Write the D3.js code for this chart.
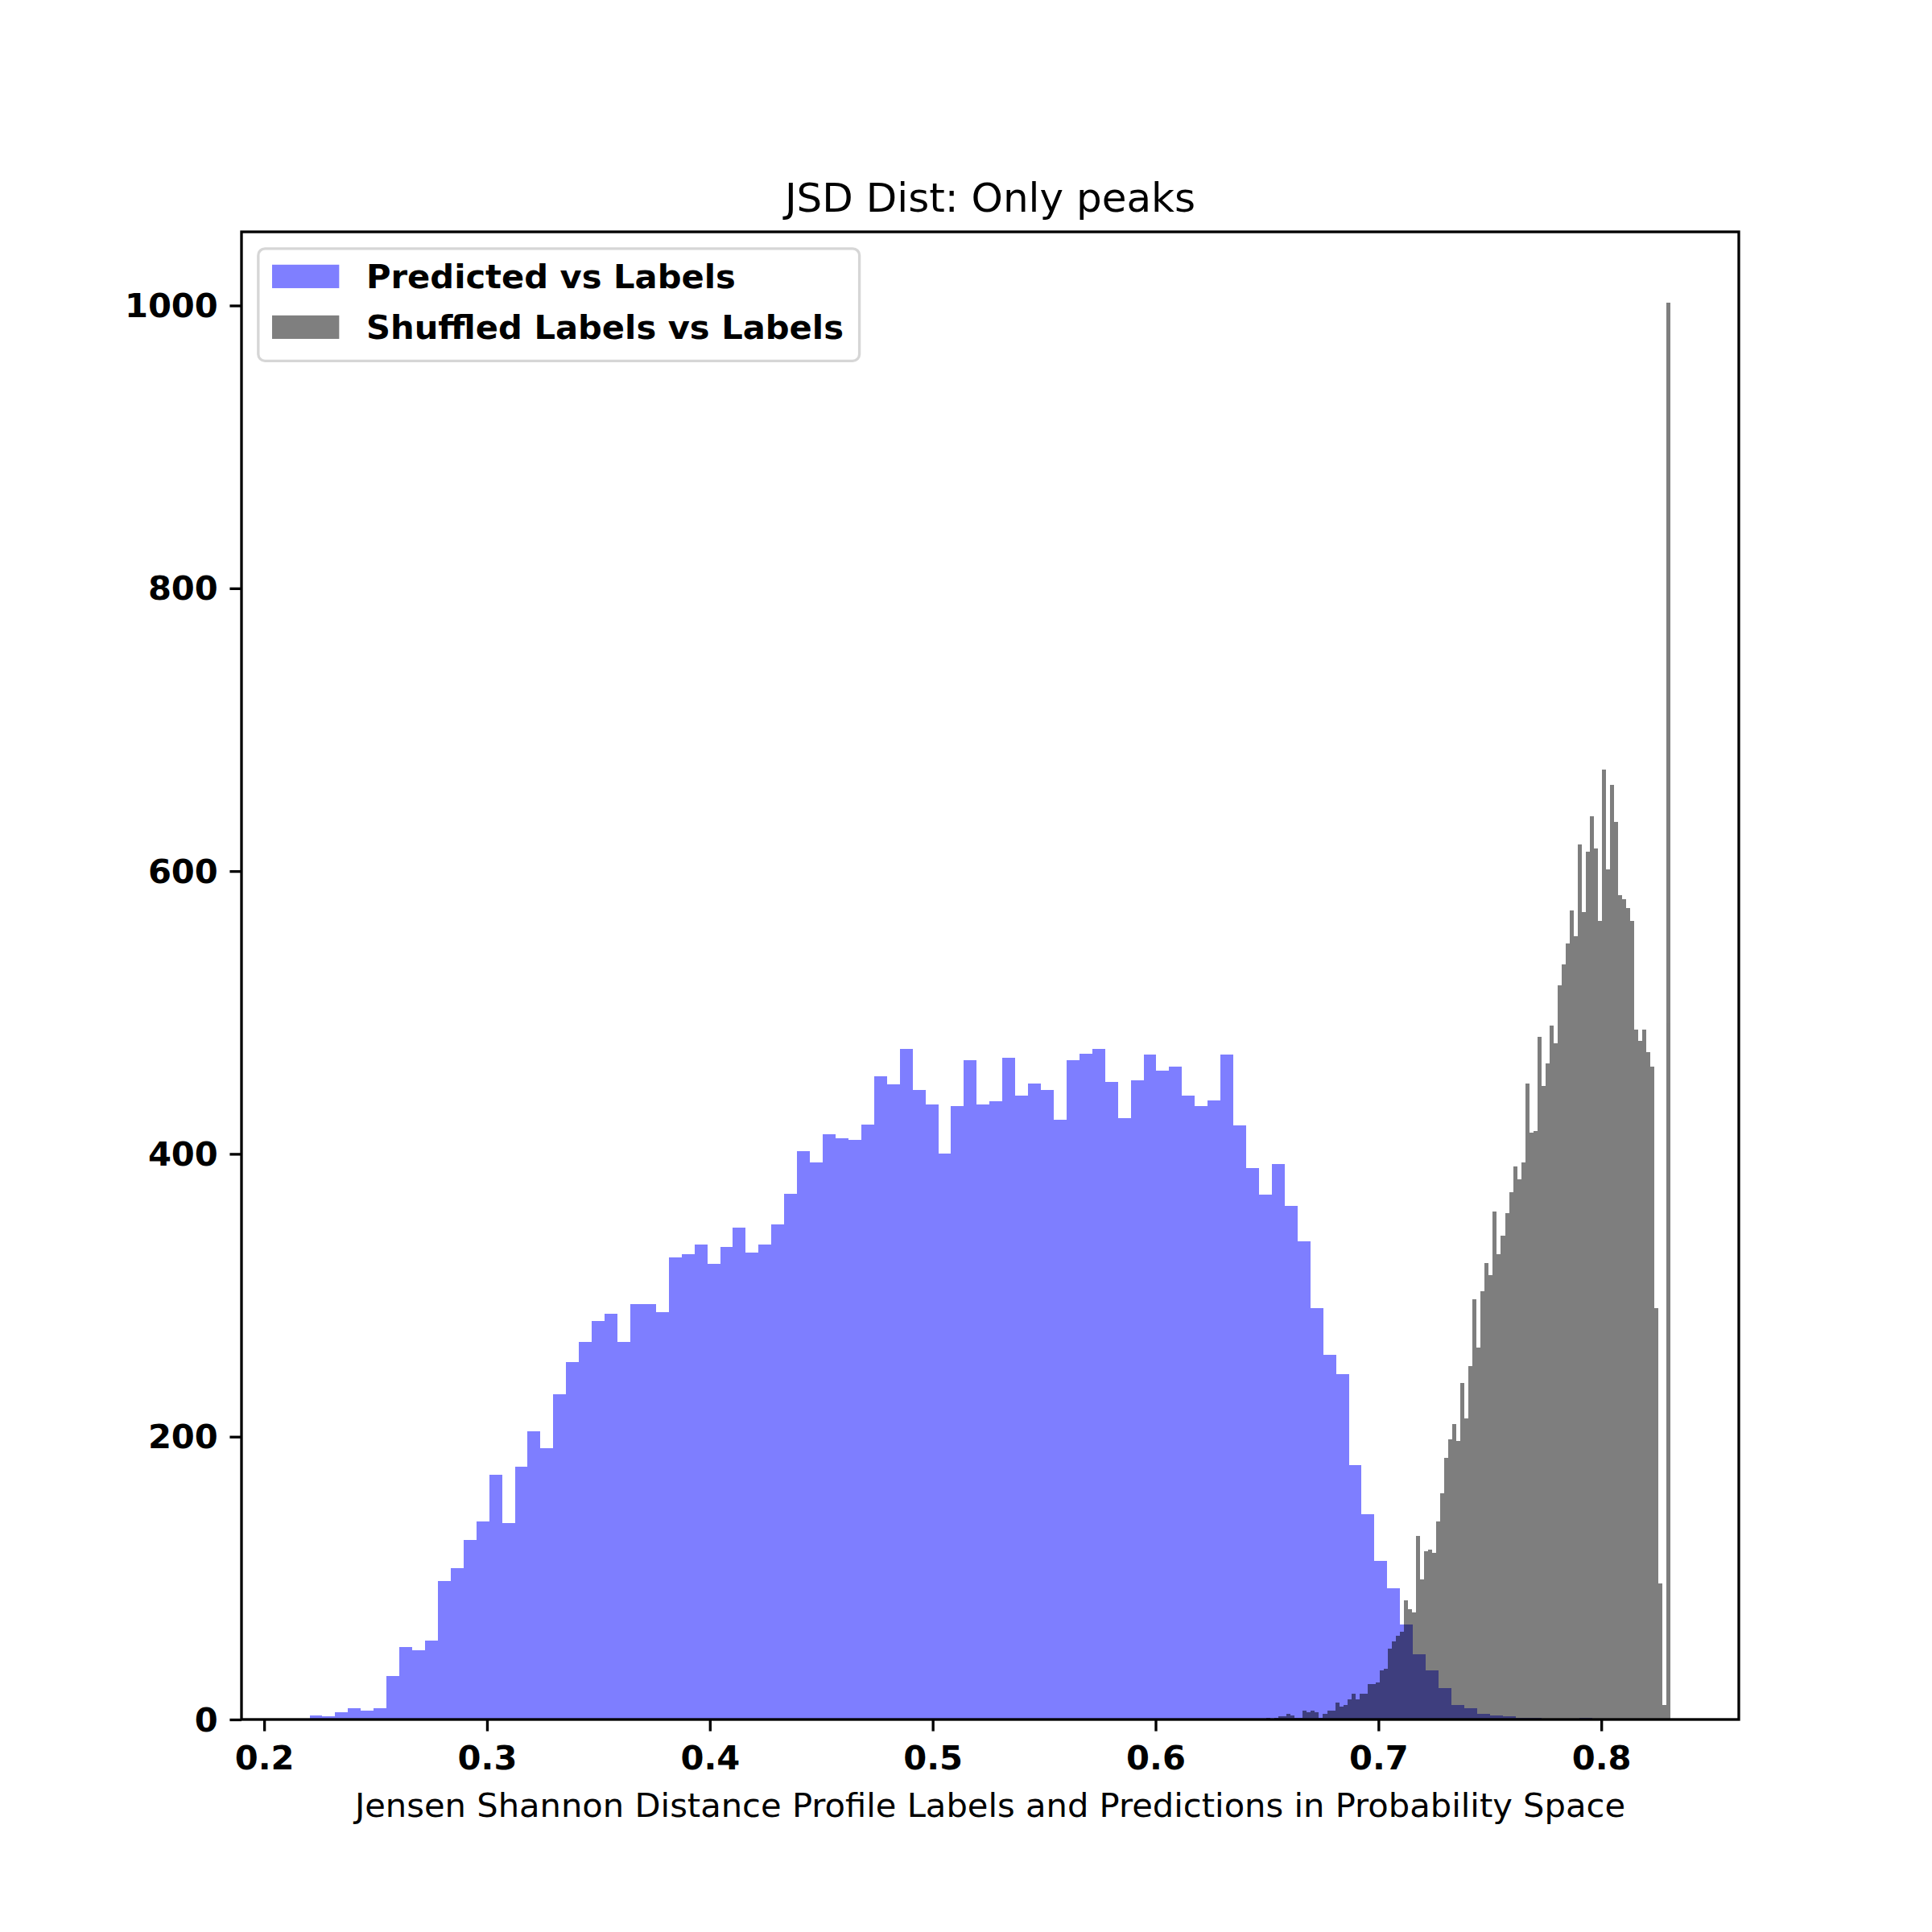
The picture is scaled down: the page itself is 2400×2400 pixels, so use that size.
<!DOCTYPE html>
<html>
<head>
<meta charset="utf-8">
<script src="https://cdn.jsdelivr.net/npm/d3@7/dist/d3.min.js"></script>
<style>
  html, body { margin: 0; padding: 0; background: #ffffff; }
  svg { display: block; }
  text { font-family: "DejaVu Sans", sans-serif; }
</style>
</head>
<body>
<div id="chart"></div>
<script>
// ---------------- DATA ----------------
const chartTitle = "JSD Dist: Only peaks";
const xLabel = "Jensen Shannon Distance Profile Labels and Predictions in Probability Space";
const seriesNames = ["Predicted vs Labels", "Shuffled Labels vs Labels"];

// Predicted vs Labels: 100 bins spanning blueRange
const blueRange = [0.22038, 0.79608];
const blueCounts = [
  3, 2, 5, 8, 6, 8, 31, 51, 49, 56,
  98, 107, 127, 140, 173, 139, 179, 204, 192, 230,
  253, 267, 282, 287, 267, 294, 294, 288, 327, 329,
  336, 322, 334, 348, 330, 336, 350, 372, 402, 394,
  414, 411, 410, 421, 455, 449, 474, 445, 435, 400,
  434, 466, 435, 437, 468, 441, 450, 445, 424, 466,
  471, 474, 451, 425, 452, 470, 459, 462, 441, 434,
  438, 470, 420, 390, 371, 393, 363, 338, 291, 258,
  244, 180, 145, 112, 93, 67, 46, 35, 22, 10,
  8, 4, 3, 2, 1, 1, 0, 0, 0, 1
];

// Shuffled Labels vs Labels: 100 bins spanning grayRange
const grayRange = [0.64973, 0.83116];
const grayCounts = [
  1, 0, 1, 2, 2, 4, 3, 1, 1, 6,
  5, 6, 5, 1, 4, 6, 6, 12, 9, 10,
  14, 18, 14, 18, 18, 25, 25, 26, 35, 36,
  50, 55, 59, 62, 84, 78, 76, 130, 99, 119,
  120, 118, 140, 160, 185, 198, 209, 197, 238, 213,
  250, 297, 263, 303, 323, 314, 359, 329, 342, 358,
  373, 391, 382, 394, 450, 415, 416, 483, 448, 464,
  491, 478, 519, 534, 549, 572, 554, 619, 571, 614,
  639, 616, 565, 672, 601, 661, 635, 583, 580, 574,
  565, 488, 480, 488, 472, 462, 291, 96, 10, 1002
];

const xTicks = [0.2, 0.3, 0.4, 0.5, 0.6, 0.7, 0.8];
const yTicks = [0, 200, 400, 600, 800, 1000];

// ---------------- LAYOUT ----------------
const W = 2400, H = 2400;
const axL = 300, axR = 2160, axT = 288, axB = 2136;
const PT = 300 / 72;                 // px per point
const fontSize = 10 * PT;            // 41.67
const titleSize = 12 * PT;           // 50
const tickLen = 3.5 * PT, tickPad = 3.5 * PT, lw = 0.8 * PT;

function edgesOf(range, n) {
  return d3.range(n + 1).map(i => range[0] + i * (range[1] - range[0]) / n);
}
const blueEdges = edgesOf(blueRange, blueCounts.length);
const grayEdges = edgesOf(grayRange, grayCounts.length);
const blueBins = blueCounts.map((c, i) => ({x0: blueEdges[i], x1: blueEdges[i + 1], c}));
const grayBins = grayCounts.map((c, i) => ({x0: grayEdges[i], x1: grayEdges[i + 1], c}));

const dataMin = Math.min(blueRange[0], grayRange[0]);
const dataMax = Math.max(blueRange[1], grayRange[1]);
const xPad = 0.05 * (dataMax - dataMin);
const x = d3.scaleLinear().domain([dataMin - xPad, dataMax + xPad]).range([axL, axR]);
const yMax = d3.max(blueCounts.concat(grayCounts));
const y = d3.scaleLinear().domain([0, 1.05 * yMax]).range([axB, axT]);

const svg = d3.select("#chart").append("svg")
  .attr("width", W).attr("height", H)
  .attr("viewBox", `0 0 ${W} ${H}`);
svg.append("rect").attr("width", W).attr("height", H).attr("fill", "#ffffff");

// ---------------- BARS ----------------
const plot = svg.append("g");
function drawHist(bins, color, cls) {
  plot.append("g").attr("class", cls)
    .attr("opacity", 0.5)
    .attr("shape-rendering", "crispEdges")
    .selectAll("rect").data(bins.filter(d => d.c > 0)).join("rect")
      .attr("x", d => x(d.x0))
      .attr("width", d => x(d.x1) - x(d.x0))
      .attr("y", d => y(d.c))
      .attr("height", d => y(0) - y(d.c))
      .attr("fill", color);
}
drawHist(blueBins, "#0000ff", "blue-hist");
drawHist(grayBins, "#000000", "gray-hist");

// ---------------- AXES ----------------
const xAxis = d3.axisBottom(x).tickValues(xTicks).tickFormat(d3.format(".1f"))
  .tickSize(tickLen).tickPadding(tickPad);
const gx = svg.append("g").attr("transform", `translate(0,${axB})`).call(xAxis);
gx.select(".domain").remove();
gx.selectAll(".tick line").attr("stroke", "#000").attr("stroke-width", lw);
gx.selectAll(".tick text")
  .attr("fill", "#000").attr("font-size", fontSize).attr("font-weight", "bold")
  .attr("font-family", "DejaVu Sans").attr("dy", "0.78em");

const yAxis = d3.axisLeft(y).tickValues(yTicks).tickFormat(d3.format("d"))
  .tickSize(tickLen).tickPadding(tickPad);
const gy = svg.append("g").attr("transform", `translate(${axL},0)`).call(yAxis);
gy.select(".domain").remove();
gy.selectAll(".tick line").attr("stroke", "#000").attr("stroke-width", lw);
gy.selectAll(".tick text")
  .attr("fill", "#000").attr("font-size", fontSize).attr("font-weight", "bold")
  .attr("font-family", "DejaVu Sans").attr("dy", "0.34em");

// spines
svg.append("rect")
  .attr("x", axL).attr("y", axT).attr("width", axR - axL).attr("height", axB - axT)
  .attr("fill", "none").attr("stroke", "#000").attr("stroke-width", lw);

// title & x label
svg.append("text").attr("x", (axL + axR) / 2).attr("y", 263)
  .attr("text-anchor", "middle").attr("font-size", titleSize).attr("fill", "#000")
  .text(chartTitle);
svg.append("text").attr("x", (axL + axR) / 2).attr("y", 2257)
  .attr("text-anchor", "middle").attr("font-size", fontSize).attr("fill", "#000")
  .text(xLabel);

// ---------------- LEGEND ----------------
const lgX = axL + 0.5 * fontSize, lgY = axT + 0.5 * fontSize;
const legend = svg.append("g");
const frame = legend.append("rect")
  .attr("x", lgX).attr("y", lgY).attr("rx", 0.2 * fontSize).attr("ry", 0.2 * fontSize)
  .attr("fill", "#ffffff").attr("fill-opacity", 0.8)
  .attr("stroke", "#cccccc").attr("stroke-opacity", 0.8).attr("stroke-width", lw);
const legendColors = ["#0000ff", "#000000"];
const rowBase = [358.3, 421.3];
seriesNames.forEach((name, i) => {
  legend.append("rect")
    .attr("x", 338).attr("y", rowBase[i] - 29.5)
    .attr("width", 2 * fontSize).attr("height", 0.7 * fontSize)
    .attr("fill", legendColors[i]).attr("fill-opacity", 0.5);
  legend.append("text")
    .attr("x", 455).attr("y", rowBase[i])
    .attr("font-size", fontSize).attr("font-weight", "bold").attr("fill", "#000")
    .text(name);
});
frame.attr("width", 1067.6 - lgX).attr("height", 448.3 - lgY);
</script>
</body>
</html>
